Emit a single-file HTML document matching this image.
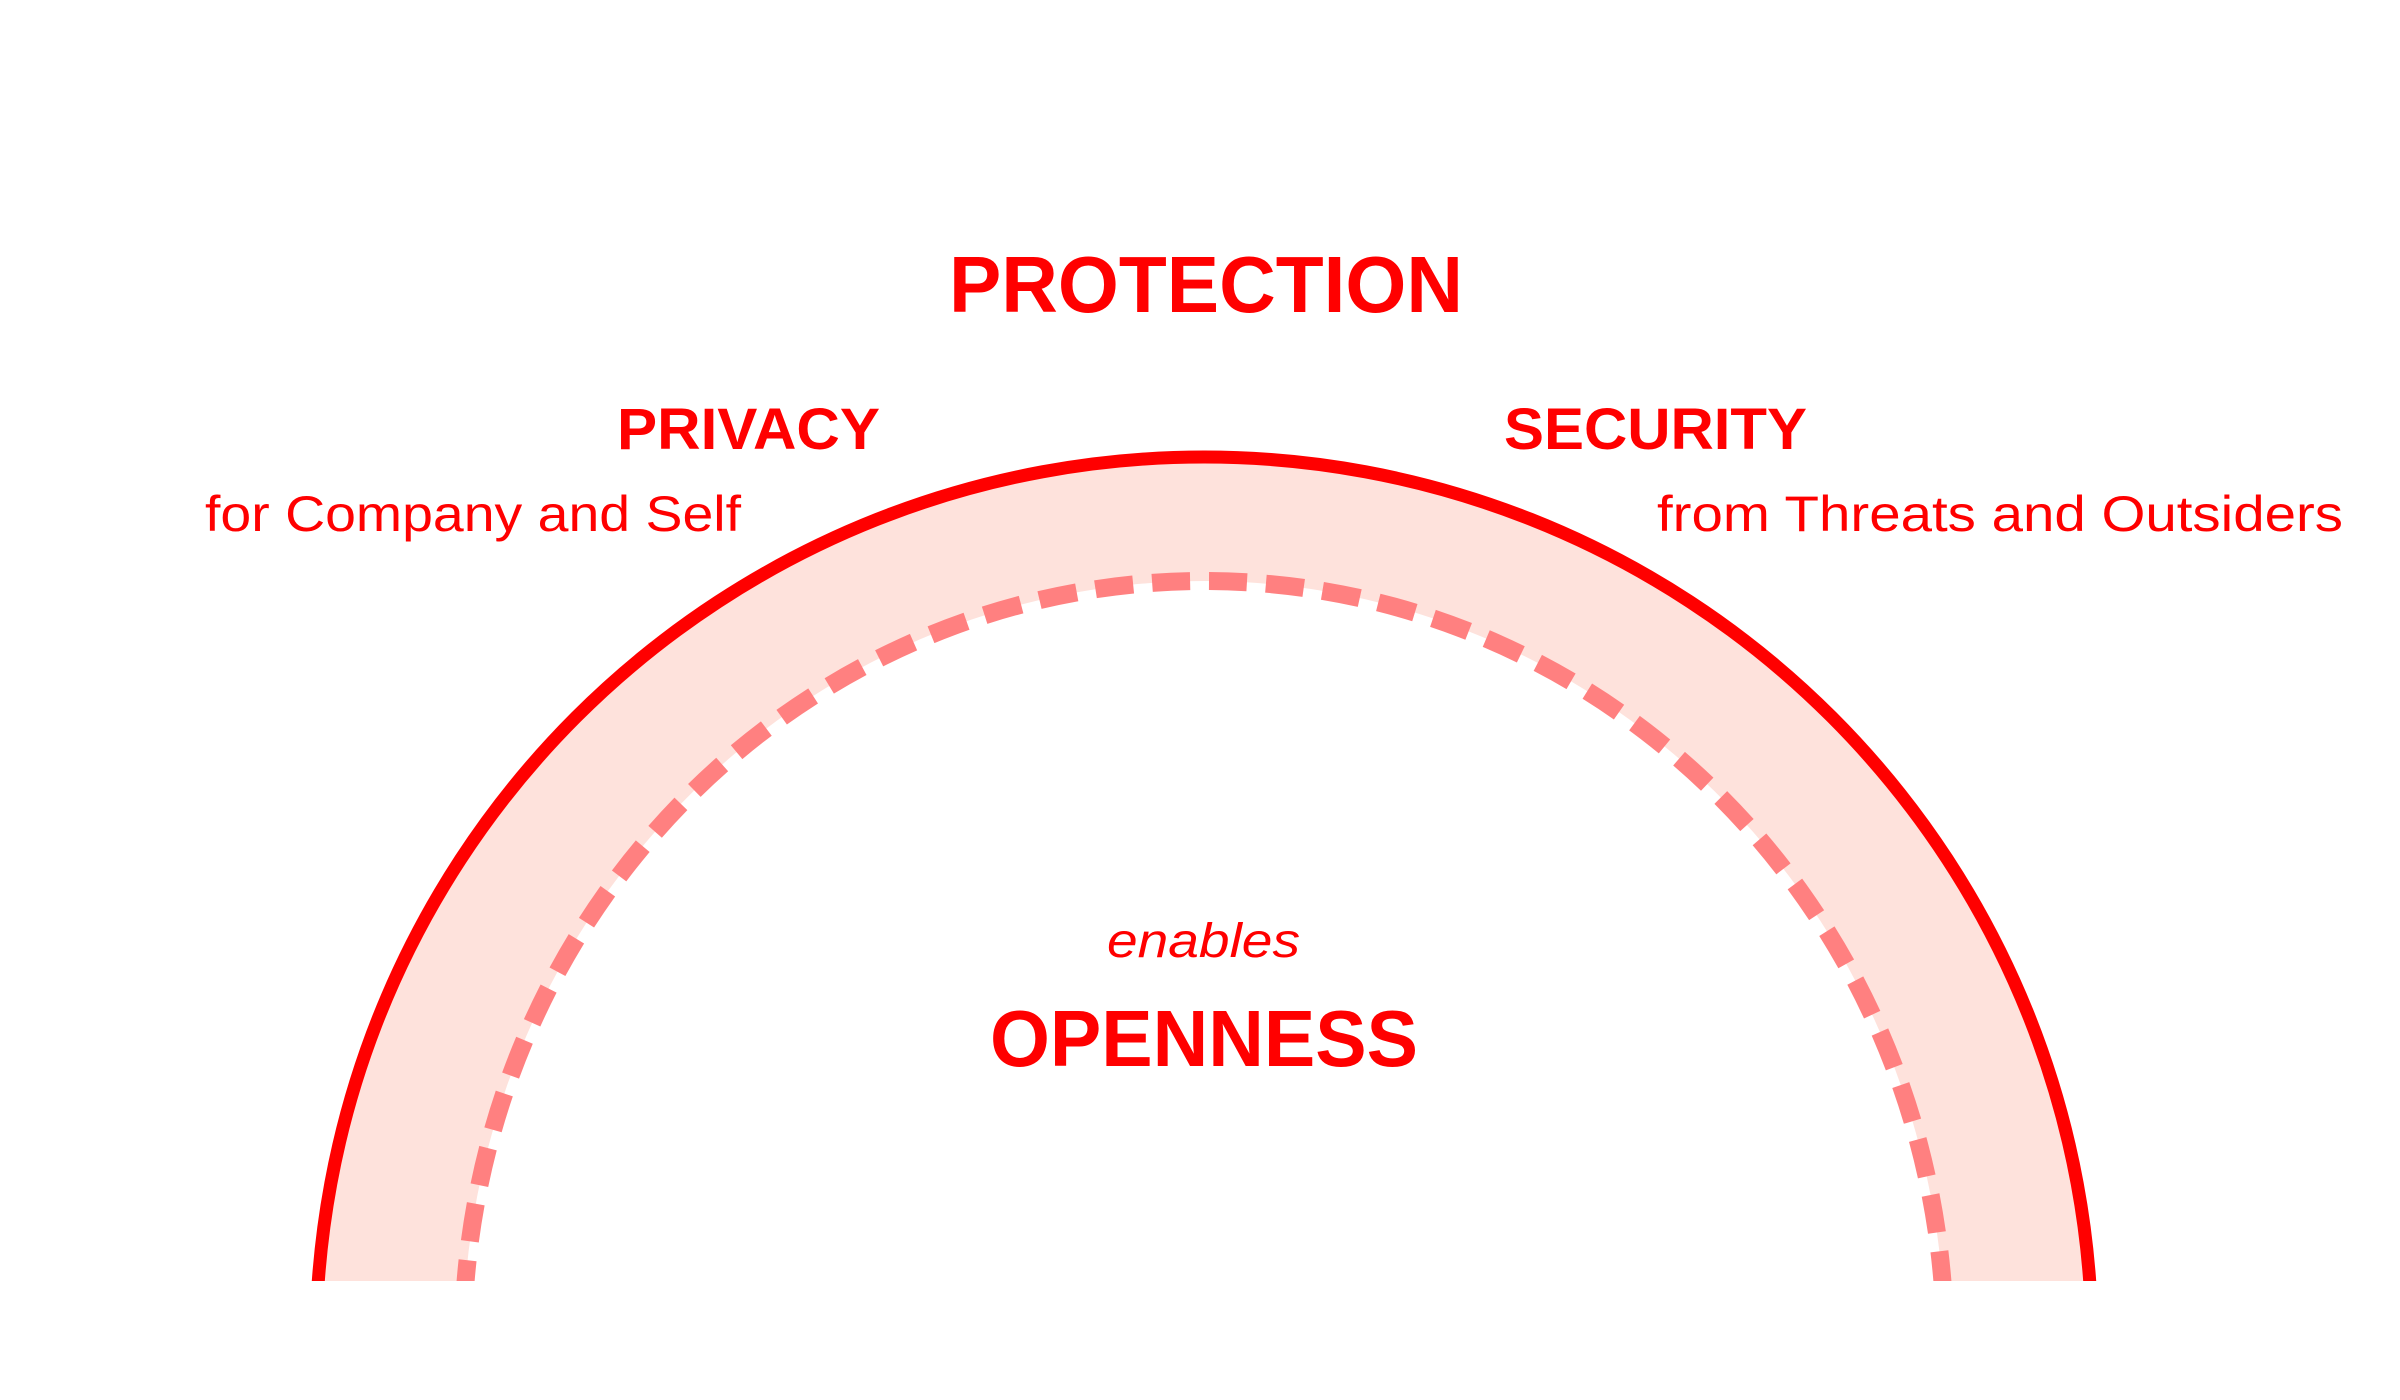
<!DOCTYPE html>
<html><head><meta charset="utf-8"><style>
html,body{margin:0;padding:0;background:#fff;width:2400px;height:1400px;overflow:hidden;}
svg{display:block;position:absolute;left:0;top:0}
text{font-family:"Liberation Sans",sans-serif;fill:#ff0000}
</style></head><body>
<svg width="2400" height="1400" viewBox="0 0 2400 1400" xmlns="http://www.w3.org/2000/svg">
<defs><clipPath id="c"><rect x="0" y="0" width="2400" height="1281"/></clipPath></defs>
<g clip-path="url(#c)">
<path d="M316 1345 A888 888 0 0 1 2092 1345 L1945 1345 A741 764 0 0 0 463 1345 Z" fill="#fee2dc"/>
<circle cx="1204" cy="1345" r="888" fill="none" stroke="#ff0000" stroke-width="13"/>
<path d="M463 1345 A741 764 0 0 1 1945 1345" fill="none" stroke="#ff8080" stroke-width="18" stroke-dasharray="38 19" stroke-dashoffset="10"/>
</g>
<text x="1206" y="312" font-size="80" font-weight="bold" text-anchor="middle" textLength="514" lengthAdjust="spacingAndGlyphs">PROTECTION</text>
<text x="617" y="449" font-size="58" font-weight="bold" textLength="263" lengthAdjust="spacingAndGlyphs">PRIVACY</text>
<text x="205" y="531" font-size="50" textLength="536" lengthAdjust="spacingAndGlyphs">for Company and Self</text>
<text x="1504" y="449" font-size="58" font-weight="bold" textLength="303" lengthAdjust="spacingAndGlyphs">SECURITY</text>
<text x="1657" y="531" font-size="50" textLength="686" lengthAdjust="spacingAndGlyphs">from Threats and Outsiders</text>
<text x="1107" y="957" font-size="48" font-style="italic" textLength="193" lengthAdjust="spacingAndGlyphs">enables</text>
<text x="990" y="1066" font-size="80" font-weight="bold" textLength="428" lengthAdjust="spacingAndGlyphs">OPENNESS</text>
</svg>
</body></html>
